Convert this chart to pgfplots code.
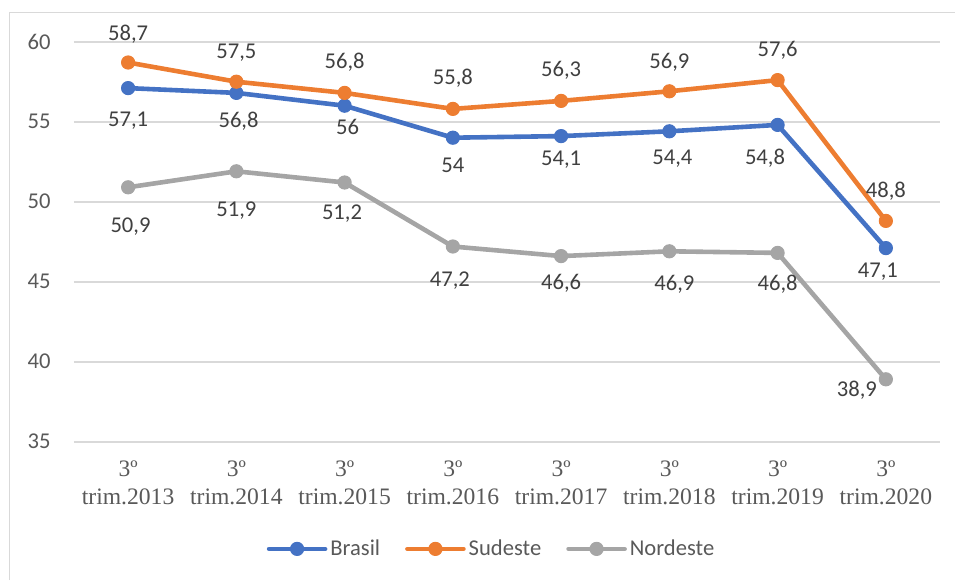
\documentclass[border=0pt]{standalone}
\usepackage{fontspec}
\setmainfont{Liberation Serif}
\newfontfamily\sansf{Carlito}
\usepackage{pgfplots}
\usepackage{pgfplotstable}
\pgfplotsset{compat=1.18}
\definecolor{cBr}{HTML}{4472C4}
\definecolor{cSe}{HTML}{ED7D31}
\definecolor{cNe}{HTML}{A5A5A5}
\definecolor{gridc}{HTML}{D9D9D9}
\definecolor{labc}{HTML}{404040}
\definecolor{tickc}{HTML}{595959}

\pgfplotstableread{
x y lab dx dy
0 57.1 57,1 0 -15.8
1 56.8 56,8 1.1 -13.7
2 56 56 1.5 -11
3 54 54 0 -13.8
4 54.1 54,1 0 -11
5 54.4 54,4 1.5 -13
6 54.8 54,8 -6.3 -16
7 47.1 47,1 -4 -11
}\brasil
\pgfplotstableread{
x y lab dx dy
0 58.7 58,7 0 14.75
1 57.5 57,5 0 15.4
2 56.8 56,8 0 15.6
3 55.8 55,8 0 16
4 56.3 56,3 0 16
5 56.9 56,9 0 15
6 57.6 57,6 0 15.5
7 48.8 48,8 0 15.5
}\sudeste
\pgfplotstableread{
x y lab dx dy
0 50.9 50,9 1.2 -19
1 51.9 51,9 0 -19.2
2 51.2 51,2 -1.3 -14.8
3 47.2 47,2 -1.5 -16.2
4 46.6 46,6 0 -13
5 46.9 46,9 2.5 -16
6 46.8 46,8 0 -15
7 38.9 38,9 -14.5 -5
}\nordeste

\begin{document}
\begin{tikzpicture}
\begin{axis}[
  name=ax, at={(0,0)}, anchor=south west,
  scale only axis, width=433pt, height=200pt,
  xmin=-0.5, xmax=7.5, ymin=35, ymax=60,
  ytick={35,40,...,60}, xtick={0,...,7},
  xticklabels={{3º\\trim.2013},{3º\\trim.2014},{3º\\trim.2015},{3º\\trim.2016},{3º\\trim.2017},{3º\\trim.2018},{3º\\trim.2019},{3º\\trim.2020}},
  axis line style={draw=none}, tick style={draw=none},
  ymajorgrids, grid style={gridc, line width=1pt},
  /pgf/number format/assume math mode=true,
  yticklabel style={font=\sansf\fontsize{11.3pt}{13.5pt}\selectfont, text=tickc, xshift=-8.2pt},
  xticklabel style={font=\fontsize{11.8pt}{13.85pt}\selectfont, text=tickc, align=center, yshift=-6.1pt},
  clip=false,
  nodes near coords, point meta=explicit symbolic,
  visualization depends on={\thisrow{dx} \as \dx},
  visualization depends on={\thisrow{dy} \as \dy},
  every node near coord/.append style={font=\sansf\fontsize{11.3pt}{13.5pt}\selectfont, text=labc, anchor=base, xshift=\dx pt, yshift={\dy pt-3.6pt}},
  legend columns=-1,
  legend style={at={(0.4827,-0.268)}, anchor=center, draw=none, fill=none,
    font=\sansf\fontsize{11.3pt}{13.5pt}\selectfont, text=tickc,
    /tikz/every even column/.append style={column sep=11pt},
    /tikz/every odd column/.append style={column sep=0pt},
    nodes={inner sep=1.5pt}},
  legend image code/.code={\draw[mark repeat=2,mark phase=2,#1] plot coordinates {(0pt,0pt) (14pt,0pt) (28pt,0pt)};},
  every axis plot/.append style={line width=2.3pt, line join=round, line cap=round, mark=*, mark size=3.3pt},
]
\addplot[cBr, mark options={solid, fill=cBr, line width=0.5pt}] table[x=x, y=y, meta=lab] {\brasil};
\addlegendentry{Brasil}
\addplot[cSe, mark options={solid, fill=cSe, line width=0.5pt}] table[x=x, y=y, meta=lab] {\sudeste};
\addlegendentry{Sudeste}
\addplot[cNe, mark options={solid, fill=cNe, line width=0.5pt}] table[x=x, y=y, meta=lab] {\nordeste};
\addlegendentry{Nordeste}
\end{axis}
\draw[gridc, line width=0.75pt] (-32.25pt,-69.15pt) -- (-32.25pt,214.6pt) -- (440.5pt,214.6pt);
\pgfresetboundingbox
\path (-37pt,-69.15pt) rectangle (440.5pt,220.85pt);
\end{tikzpicture}
\end{document}
